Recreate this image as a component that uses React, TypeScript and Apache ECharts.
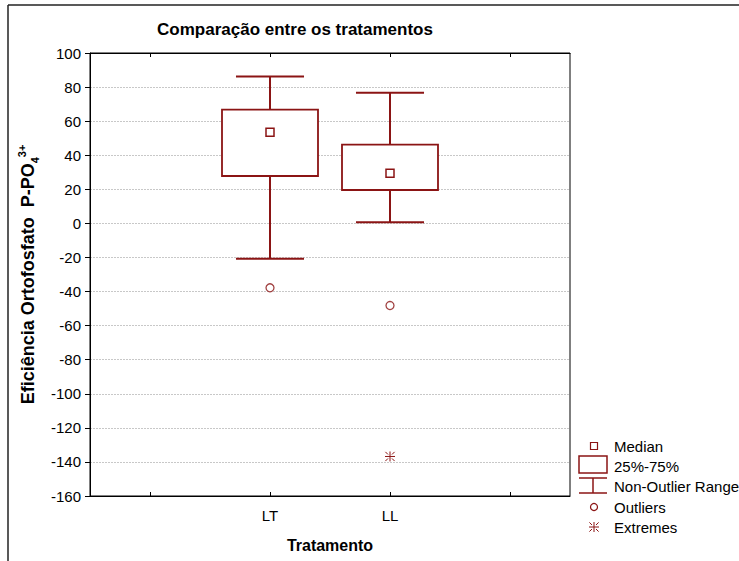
import React, { useEffect, useRef } from "react";
import * as echarts from "echarts";

const categories = ["LT", "LL"];
const whiskerLow = [-20.8, 0.6];
const q1 = [27.8, 19.6];
const median = [53.5, 29.4];
const q3 = [66.8, 46.2];
const whiskerHigh = [86.2, 76.7];
const outliers: [string, number][] = [["LT", -37.8], ["LL", -48.2]];
const extremes: [string, number][] = [["LL", -136.8]];
const yTicks = { min: -160, max: 100, interval: 20 };

const RED = "#8B1414";
const FONT = "Arial, 'Liberation Sans', sans-serif";

export default function App() {
  const ref = useRef<HTMLDivElement>(null);
  useEffect(() => {
    if (!ref.current) return;
    const chart = echarts.init(ref.current, undefined, { renderer: "svg" });
    const axisData = ["", ...categories, ""];
    const idx = (c: string) => axisData.indexOf(c);
    const boxData = categories.map((c, i) => [idx(c), whiskerLow[i], q1[i], median[i], q3[i], whiskerHigh[i]]);

    const asterisk = (cx: number, cy: number) => {
      const s = { stroke: RED, lineWidth: 1 };
      const d = 5, g = 2;
      const k = Math.SQRT1_2;
      return [
        { type: "line", shape: { x1: cx - d, y1: cy, x2: cx + d, y2: cy }, style: s },
        { type: "line", shape: { x1: cx, y1: cy - d, x2: cx, y2: cy + d }, style: s },
        ...[[1, 1], [1, -1], [-1, 1], [-1, -1]].map(([a, b]) => ({
          type: "line",
          shape: { x1: cx + a * g * k * 1.4, y1: cy + b * g * k * 1.4, x2: cx + a * d * k * 1.3, y2: cy + b * d * k * 1.3 },
          style: s,
        })),
      ];
    };

    const option: any = {
      animation: false,
      backgroundColor: "#fff",
      textStyle: { fontFamily: FONT },
      grid: { left: 90, top: 53, right: 169, bottom: 65, show: true, borderColor: "#000", borderWidth: 1 },
      xAxis: [
        {
          type: "category",
          data: axisData,
          position: "bottom",
          name: "Tratamento",
          nameLocation: "middle",
          nameGap: 41,
          nameTextStyle: { fontSize: 16, fontWeight: "bold", color: "#000", fontFamily: FONT },
          axisLine: { show: true, onZero: false, lineStyle: { color: "#000", width: 1 } },
          axisTick: { show: true, inside: true, alignWithLabel: true, length: 4, lineStyle: { color: "#000" } },
          axisLabel: { color: "#000", fontSize: 15, margin: 12, fontFamily: FONT, interval: 0 },
          splitLine: { show: false },
        },
        {
          type: "category",
          data: axisData,
          position: "top",
          axisLine: { show: true, onZero: false, lineStyle: { color: "#000", width: 1 } },
          axisTick: { show: true, inside: true, alignWithLabel: true, length: 4, lineStyle: { color: "#000" } },
          axisLabel: { show: false },
          splitLine: { show: false },
        },
      ],
      yAxis: {
        type: "value",
        min: yTicks.min,
        max: yTicks.max,
        interval: yTicks.interval,
        name: "{a|Eficiência Ortofosfato  P-PO}{sub|4}{sup|3+}",
        nameLocation: "middle",
        nameRotate: 90,
        nameGap: 46,
        nameTextStyle: {
          color: "#000",
          rich: {
            a: { fontSize: 18, fontWeight: "bold", fontFamily: FONT, lineHeight: 24, color: "#000" },
            sub: { fontSize: 11, fontWeight: "bold", fontFamily: FONT, lineHeight: 11, verticalAlign: "bottom", color: "#000" },
            sup: { fontSize: 11, fontWeight: "bold", fontFamily: FONT, lineHeight: 11, verticalAlign: "top", color: "#000" },
          },
        },
        axisLine: { show: true, lineStyle: { color: "#000", width: 1 } },
        axisTick: { show: true, inside: false, length: 5, lineStyle: { color: "#000" } },
        axisLabel: { color: "#000", fontSize: 15, margin: 9, fontFamily: FONT },
        splitLine: { show: true, lineStyle: { color: "#c8c8c8", type: [2, 1], width: 1 } },
      },
      series: [
        {
          type: "custom",
          xAxisIndex: 0,
          data: boxData,
          encode: { x: 0, y: [1, 2, 3, 4, 5] },
          renderItem: (_p: any, api: any) => {
            const x = api.value(0);
            const lo = api.coord([x, api.value(1)]);
            const a = api.coord([x, api.value(2)]);
            const m = api.coord([x, api.value(3)]);
            const b = api.coord([x, api.value(4)]);
            const hi = api.coord([x, api.value(5)]);
            const band = api.size([1, 0])[0];
            const bw = band * 0.8;
            const cw = band * 0.567;
            const cx = lo[0];
            const ls = { stroke: RED, lineWidth: 2 };
            return {
              type: "group",
              children: [
                { type: "line", shape: { x1: cx, y1: hi[1], x2: cx, y2: b[1] }, style: ls },
                { type: "line", shape: { x1: cx, y1: a[1], x2: cx, y2: lo[1] }, style: ls },
                { type: "line", shape: { x1: cx - cw / 2, y1: hi[1], x2: cx + cw / 2, y2: hi[1] }, style: ls },
                { type: "line", shape: { x1: cx - cw / 2, y1: lo[1], x2: cx + cw / 2, y2: lo[1] }, style: ls },
                { type: "rect", shape: { x: cx - bw / 2, y: b[1], width: bw, height: a[1] - b[1] }, style: { fill: "#fff", stroke: RED, lineWidth: 1.8 } },
                { type: "rect", shape: { x: cx - 4, y: m[1] - 4, width: 8, height: 8 }, style: { fill: "#fff", stroke: RED, lineWidth: 1.5 } },
              ],
            };
          },
          z: 3,
        },
        {
          type: "scatter",
          xAxisIndex: 0,
          data: outliers.map(([c, v]) => [idx(c), v]),
          symbol: "circle",
          symbolSize: 8,
          itemStyle: { color: "#fff", borderColor: RED, borderWidth: 1.3 },
          z: 4,
        },
        {
          type: "custom",
          xAxisIndex: 0,
          data: extremes.map(([c, v]) => [idx(c), v]),
          encode: { x: 0, y: 1 },
          renderItem: (_p: any, api: any) => {
            const p = api.coord([api.value(0), api.value(1)]);
            return { type: "group", children: asterisk(p[0], p[1]) };
          },
          z: 4,
        },
      ],
      graphic: [
        { type: "line", shape: { x1: 8, y1: 5, x2: 739, y2: 5 }, style: { stroke: "#222", lineWidth: 1.5 } },
        { type: "line", shape: { x1: 8, y1: 5, x2: 8, y2: 561 }, style: { stroke: "#222", lineWidth: 1.5 } },
        {
          type: "text", x: 295, y: 29,
          style: { text: "Comparação entre os tratamentos", fontSize: 17, fontWeight: "bold", fontFamily: FONT, fill: "#000", textAlign: "center", textVerticalAlign: "middle" },
        },
        { type: "rect", shape: { x: 590.5, y: 442.5, width: 7, height: 7 }, style: { fill: "#fff", stroke: RED, lineWidth: 1.2 } },
        { type: "rect", shape: { x: 579, y: 456, width: 28, height: 17 }, style: { fill: "#fff", stroke: RED, lineWidth: 1.5 } },
        { type: "line", shape: { x1: 579, y1: 478, x2: 607, y2: 478 }, style: { stroke: RED, lineWidth: 1.5 } },
        { type: "line", shape: { x1: 593, y1: 478, x2: 593, y2: 493 }, style: { stroke: RED, lineWidth: 1.5 } },
        { type: "line", shape: { x1: 579, y1: 493, x2: 607, y2: 493 }, style: { stroke: RED, lineWidth: 1.5 } },
        { type: "circle", shape: { cx: 594, cy: 507, r: 3.5 }, style: { fill: "#fff", stroke: RED, lineWidth: 1.2 } },
        { type: "group", children: asterisk(594, 527) },
        ...[
          ["Median", 446],
          ["25%-75%", 466],
          ["Non-Outlier Range", 486],
          ["Outliers", 507],
          ["Extremes", 527],
        ].map(([t, y]) => ({
          type: "text", x: 614, y: y as number,
          style: { text: t as string, fontSize: 15, fontFamily: FONT, fill: "#000", textAlign: "left", textVerticalAlign: "middle" },
        })),
      ],
    };
    chart.setOption(option);
    return () => chart.dispose();
  }, []);
  return <div ref={ref} style={{ width: 739, height: 561, position: "absolute", left: 0, top: 0 }} />;
}
